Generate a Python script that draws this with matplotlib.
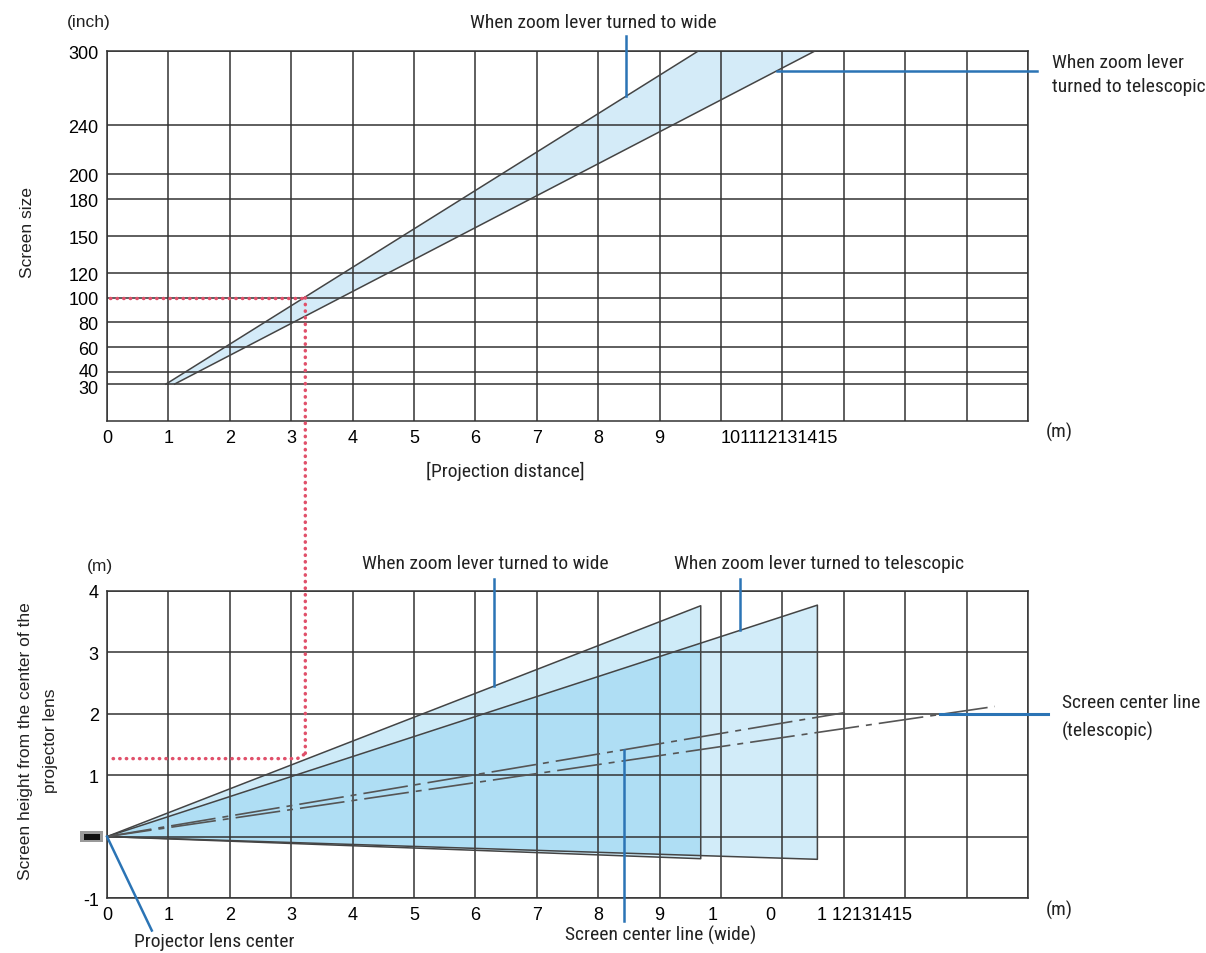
import matplotlib
matplotlib.use("Agg")
import matplotlib.pyplot as plt
import matplotlib.transforms as mtransforms
from matplotlib import font_manager
from matplotlib.patches import Polygon, Rectangle, ConnectionPatch

# ---------------- data ----------------
distance_grid = list(range(0, 16))                 # m, vertical grid lines
distance_ticks = list(range(0, 10))
distance_tick_labels = [str(v) for v in distance_ticks]
crammed_top_label = "101112131415"
size_levels = [30, 40, 60, 80, 100, 120, 150, 180, 200, 240, 300]   # inch
size_line_y = [30, 300]
wide_size_line_x = [0.96, 9.63]
tele_size_line_x = [1.10, 11.53]

example_size = 100
example_distance = 3.23
example_height = 1.27

height_grid = [-1, 0, 1, 2, 3, 4]
height_ticks = [4, 3, 2, 1, -1]
bottom_extra_ticks = [9.87, 10.8, 11.56]
bottom_extra_labels = ["1", "0", "1 12131415"]

wide_screen_x = 9.67
wide_screen_top = 3.76
wide_screen_bottom = -0.36
tele_screen_x = 11.57
tele_screen_top = 3.77
tele_screen_bottom = -0.37
wide_center_end = [12.02, 2.02]
tele_center_end = [14.46, 2.12]

# ---------------- fonts ----------------
available = {f.name for f in font_manager.fontManager.ttflist}
NUM_FONT = "Liberation Sans" if "Liberation Sans" in available else "DejaVu Sans"
COND_FONT = NUM_FONT
for cand in ["Liberation Sans Narrow", "Roboto Condensed", "Open Sans Condensed", "DejaVu Sans Condensed"]:
    if cand in available:
        COND_FONT = cand
        break

W, H = 1206, 954
fig = plt.figure(figsize=(W / 100, H / 100), dpi=100)


def fx(px):
    return px / W


def fy(py):
    return 1 - py / H


GRID = "#333333"
EDGE = "#444444"
BLUE = "#2b74b5"
RED = "#e0506a"

# ================= top chart =================
ax1 = fig.add_axes([fx(107), fy(421.5), (1028 - 107) / W, (421.5 - 52) / H])
ax1.set_xlim(0, 15)
ax1.set_ylim(0.5, 300)
for x in distance_grid:
    ax1.axvline(x, color=GRID, lw=1.1, zorder=2)
for y in size_levels:
    ax1.axhline(y, color=GRID, lw=1.1, zorder=2)
for s in ax1.spines.values():
    s.set_color(GRID)
    s.set_linewidth(1.1)

band = Polygon([[wide_size_line_x[0], size_line_y[0]], [wide_size_line_x[1], size_line_y[1]],
                [tele_size_line_x[1], size_line_y[1]], [tele_size_line_x[0], size_line_y[0]]],
               closed=True, facecolor="#d4ebf8", edgecolor="none", zorder=1)
ax1.add_patch(band)
ax1.plot(wide_size_line_x, size_line_y, color=EDGE, lw=1.1, zorder=3)
ax1.plot(tele_size_line_x, size_line_y, color=EDGE, lw=1.1, zorder=3)

ax1.set_xticks(distance_ticks + [10], distance_tick_labels + [crammed_top_label])
ax1.set_yticks(size_levels, [str(v) for v in size_levels])
ax1.tick_params(axis="x", length=0, pad=6, labelsize=13)
ax1.tick_params(axis="y", length=0, pad=6, labelsize=13)
for lab in ax1.get_xticklabels() + ax1.get_yticklabels():
    lab.set_fontfamily(NUM_FONT)
ax1.get_xticklabels()[-1].set_ha("left")
# nudge the crowded 40 / 30 labels apart slightly
ylabs = ax1.get_yticklabels()
ylabs[0].set_transform(ylabs[0].get_transform() + mtransforms.ScaledTranslation(0, -1.5 / 72, fig.dpi_scale_trans))
ylabs[1].set_transform(ylabs[1].get_transform() + mtransforms.ScaledTranslation(0, 1.5 / 72, fig.dpi_scale_trans))

# red example lines (top)
dots = dict(color=RED, lw=2.5, linestyle=(0, (0.1, 1.8)), dash_capstyle="round")
ax1.plot([0.05, example_distance], [example_size, example_size], zorder=4, **dots)


def tele_size_x(s):
    return tele_size_line_x[0] + (s - size_line_y[0]) * (tele_size_line_x[1] - tele_size_line_x[0]) / (size_line_y[1] - size_line_y[0])


def wide_size_y(x):
    return size_line_y[0] + (x - wide_size_line_x[0]) * (size_line_y[1] - size_line_y[0]) / (wide_size_line_x[1] - wide_size_line_x[0])


# pointers (top)
px_wide = 8.45
ax1.plot([px_wide, px_wide], [wide_size_y(px_wide), 312.2], color=BLUE, lw=1.8, clip_on=False, zorder=5)
s_tel = 283.8
ax1.plot([tele_size_x(s_tel), 15.15], [s_tel, s_tel], color=BLUE, lw=1.8, clip_on=False, zorder=5)

# ================= bottom chart =================
ax2 = fig.add_axes([fx(107), fy(899), (1028 - 107) / W, (899 - 592) / H])
ax2.set_xlim(0, 15)
ax2.set_ylim(-1, 4)
for x in distance_grid:
    ax2.axvline(x, color=GRID, lw=1.1, zorder=2)
for y in height_grid:
    ax2.axhline(y, color=GRID, lw=1.1, zorder=2)
for s in ax2.spines.values():
    s.set_color(GRID)
    s.set_linewidth(1.1)

FILL = "#5fbeeb"
tele_poly = Polygon([[0, 0], [tele_screen_x, tele_screen_top], [tele_screen_x, tele_screen_bottom]],
                    closed=True, facecolor=FILL, alpha=0.28, edgecolor="none", zorder=1)
wide_poly = Polygon([[0, 0], [wide_screen_x, wide_screen_top], [wide_screen_x, wide_screen_bottom]],
                    closed=True, facecolor=FILL, alpha=0.30, edgecolor="none", zorder=1)
ax2.add_patch(tele_poly)
ax2.add_patch(wide_poly)
for (sx, st, sb) in [(wide_screen_x, wide_screen_top, wide_screen_bottom),
                     (tele_screen_x, tele_screen_top, tele_screen_bottom)]:
    ax2.plot([0, sx, sx, 0], [0, st, sb, 0], color=EDGE, lw=1.1, zorder=3)

dashdot = (0, (27, 4.2, 3.6, 4.2))
ax2.plot([0, wide_center_end[0]], [0, wide_center_end[1]], color="#555555", lw=1.2, linestyle=dashdot, zorder=3)
ax2.plot([0, tele_center_end[0]], [0, tele_center_end[1]], color="#555555", lw=1.2, linestyle=dashdot, zorder=3)

ax2.set_xticks(distance_ticks + bottom_extra_ticks, distance_tick_labels + bottom_extra_labels)
ax2.set_yticks(height_ticks, [str(v) for v in height_ticks])
ax2.tick_params(axis="x", length=0, pad=6, labelsize=13)
ax2.tick_params(axis="y", length=0, pad=6, labelsize=13)
for lab in ax2.get_xticklabels() + ax2.get_yticklabels():
    lab.set_fontfamily(NUM_FONT)
ax2.get_xticklabels()[-1].set_ha("left")

# red example lines (bottom)
ax2.plot([0.1, example_distance - 0.13, example_distance], [example_height, example_height, example_height + 0.08],
         zorder=4, clip_on=False, **dots)
con = ConnectionPatch(xyA=(example_distance, example_size), coordsA=ax1.transData,
                      xyB=(example_distance, example_height + 0.08), coordsB=ax2.transData,
                      color=RED, lw=2.5, linestyle=(0, (0.1, 1.8)), capstyle="round", zorder=6)
fig.add_artist(con)

# projector icon
ax2.add_patch(Rectangle((-0.44, -0.09), 0.37, 0.18, facecolor="#9a9a9a", edgecolor="none", clip_on=False, zorder=5))
ax2.add_patch(Rectangle((-0.38, -0.05), 0.27, 0.10, facecolor="#111111", edgecolor="none", clip_on=False, zorder=6))

# pointers (bottom)
wslope = wide_screen_top / wide_screen_x
tslope = tele_screen_top / tele_screen_x
wcs = wide_center_end[1] / wide_center_end[0]
tcs = tele_center_end[1] / tele_center_end[0]
ax2.plot([6.30, 6.30], [6.30 * wslope, 4.2], color=BLUE, lw=1.8, clip_on=False, zorder=5)
ax2.plot([10.31, 10.31], [10.31 * tslope, 4.2], color=BLUE, lw=1.8, clip_on=False, zorder=5)
ax2.plot([13.57, 15.33], [13.57 * tcs, 13.57 * tcs], color=BLUE, lw=2.2, clip_on=False, zorder=5)
ax2.plot([8.42, 8.42], [8.42 * wcs, -1.38], color=BLUE, lw=1.8, clip_on=False, zorder=5)
ax2.plot([0, 0.73], [0, -1.53], color=BLUE, lw=1.8, clip_on=False, zorder=5)

# ================= texts =================
ct = dict(family=COND_FONT, fontsize=14, color="#222222")
nt = dict(family=NUM_FONT, fontsize=12.5, color="#222222")
fig.text(fx(89), fy(22), "(inch)", ha="center", va="center", **nt)
fig.text(fx(28), fy(233), "Screen size", ha="center", va="center", rotation=90, **nt)
fig.text(fx(593), fy(23), "When zoom lever turned to wide", ha="center", va="center", **ct)
fig.text(fx(1052), fy(63), "When zoom lever", ha="left", va="center", **ct)
fig.text(fx(1052), fy(87), "turned to telescopic", ha="left", va="center", **ct)
fig.text(fx(1059), fy(432), "(m)", ha="center", va="center", **ct)
fig.text(fx(505), fy(471), "[Projection distance]", ha="center", va="center", **ct)

fig.text(fx(100), fy(567), "(m)", ha="center", va="center", **nt)
fig.text(fx(38), fy(741), "Screen height from the center of the\nprojector lens", ha="center", va="center",
         rotation=90, multialignment="center", linespacing=1.9, **nt)
fig.text(fx(485), fy(564), "When zoom lever turned to wide", ha="center", va="center", **ct)
fig.text(fx(819), fy(564), "When zoom lever turned to telescopic", ha="center", va="center", **ct)
fig.text(fx(1062), fy(703), "Screen center line", ha="left", va="center", **ct)
fig.text(fx(1062), fy(731), "(telescopic)", ha="left", va="center", **ct)
fig.text(fx(1059), fy(910), "(m)", ha="center", va="center", **ct)
fig.text(fx(661), fy(935), "Screen center line (wide)", ha="center", va="center", **ct)
fig.text(fx(214), fy(942), "Projector lens center", ha="center", va="center", **ct)

fig.savefig("out.png", dpi=100, facecolor="white")
